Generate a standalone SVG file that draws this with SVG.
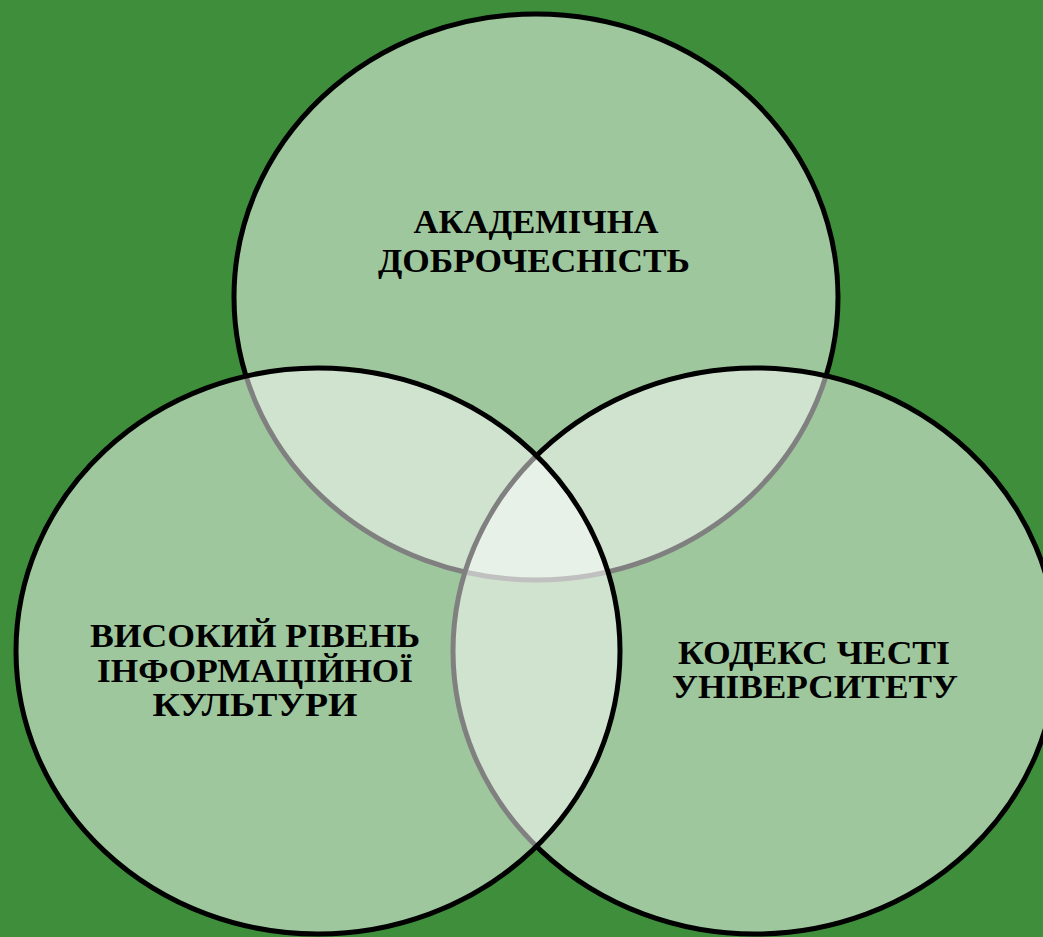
<svg xmlns="http://www.w3.org/2000/svg" width="1043" height="937" viewBox="0 0 1043 937">
<style>
.c{fill:#ffffff;fill-opacity:0.5;stroke:#000000;stroke-width:5}
.t{font-family:"Liberation Serif","Times New Roman",serif;font-weight:bold;font-size:34px;fill:#000000;text-anchor:middle}
</style>
<rect x="0" y="0" width="1043" height="937" fill="#3e8e3b"/>
<g id="node-academic">
<ellipse class="c" cx="536" cy="297" rx="302" ry="283"/>
<text class="t" x="536" y="233" textLength="245" lengthAdjust="spacingAndGlyphs">АКАДЕМІЧНА</text>
<text class="t" x="534" y="272" textLength="312" lengthAdjust="spacingAndGlyphs">ДОБРОЧЕСНІСТЬ</text>
</g>
<g id="node-code">
<ellipse class="c" cx="755" cy="651" rx="302" ry="283"/>
<text class="t" x="814" y="664" textLength="272" lengthAdjust="spacingAndGlyphs">КОДЕКС ЧЕСТІ</text>
<text class="t" x="815" y="698" textLength="286" lengthAdjust="spacingAndGlyphs">УНІВЕРСИТЕТУ</text>
</g>
<g id="node-culture">
<ellipse class="c" cx="318" cy="651" rx="302" ry="283"/>
<text class="t" x="255" y="647" textLength="330" lengthAdjust="spacingAndGlyphs">ВИСОКИЙ РІВЕНЬ</text>
<text class="t" x="255" y="682" textLength="316" lengthAdjust="spacingAndGlyphs">ІНФОРМАЦІЙНОЇ</text>
<text class="t" x="255" y="716" textLength="205" lengthAdjust="spacingAndGlyphs">КУЛЬТУРИ</text>
</g>
</svg>
